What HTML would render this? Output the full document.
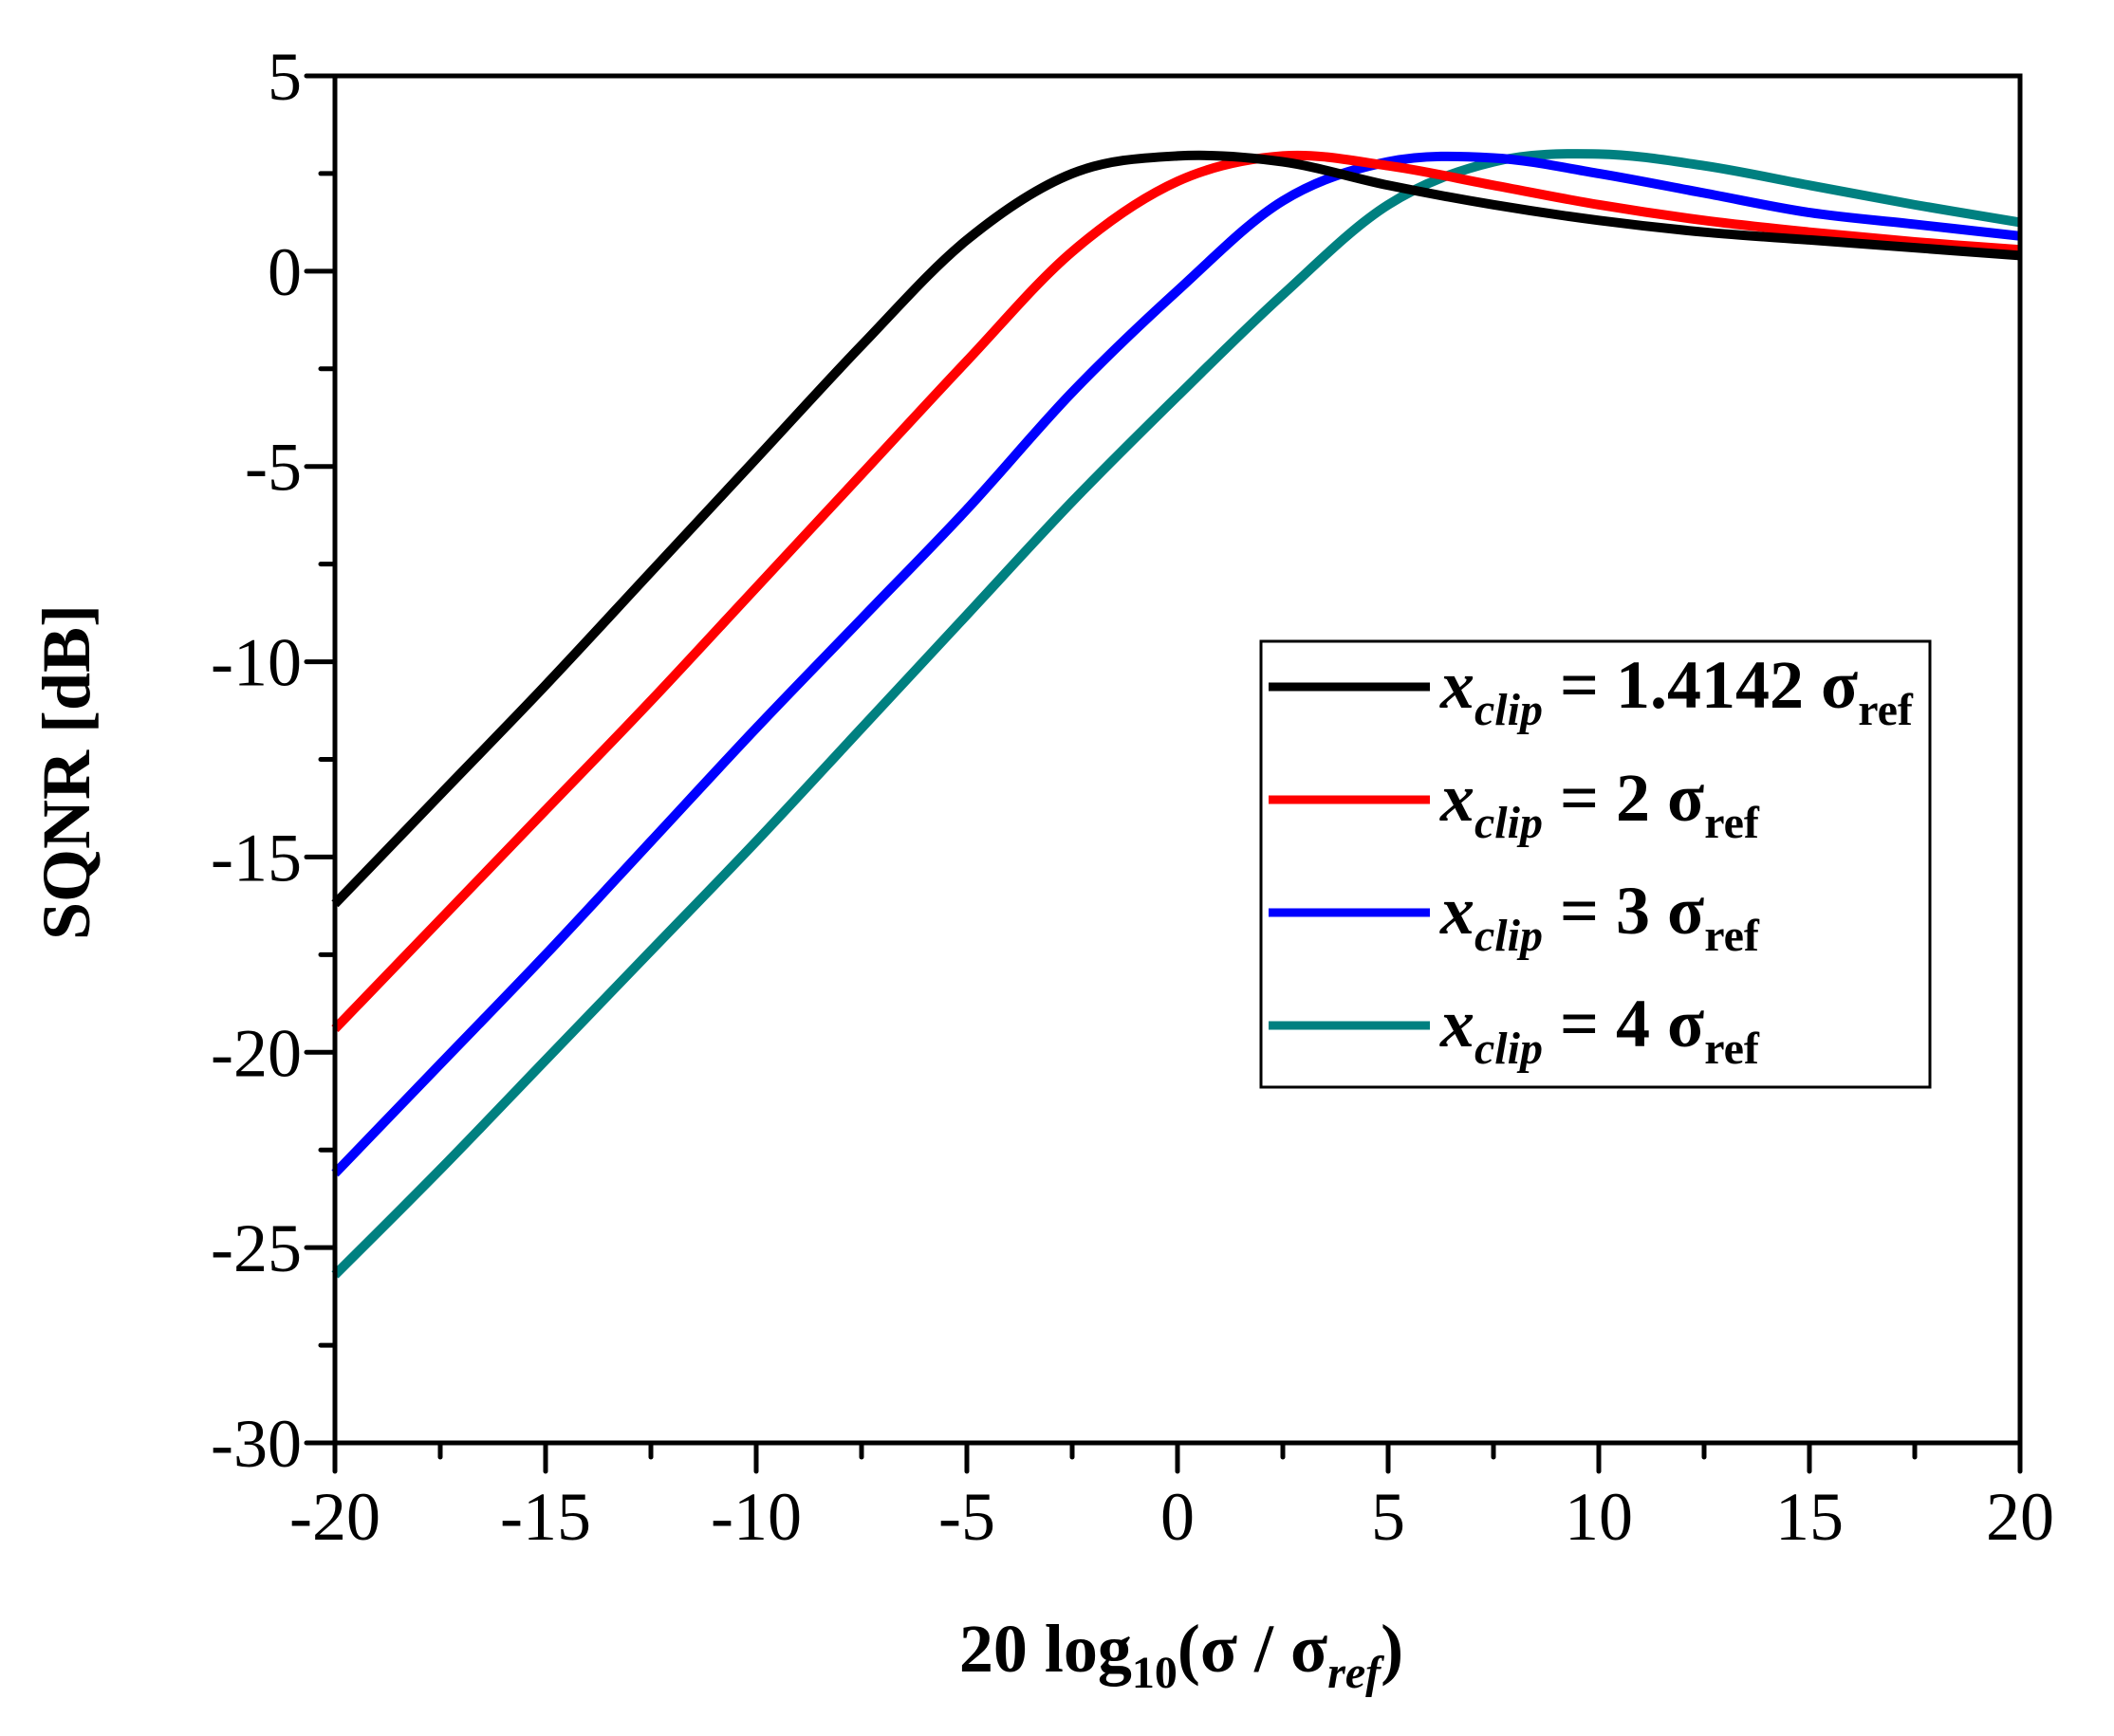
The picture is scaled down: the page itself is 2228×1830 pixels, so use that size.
<!DOCTYPE html>
<html><head><meta charset="utf-8"><style>
html,body{margin:0;padding:0;background:#fff}
svg{display:block;font-family:"Liberation Serif","DejaVu Serif",serif}
</style></head><body>
<svg id="chart" width="2228" height="1830" viewBox="0 0 2228 1830">
<g id="curves"></g>
<g id="axes"></g>
<text x="94" y="814" transform="rotate(-90 94 814)" text-anchor="middle" font-size="72" font-weight="bold">SQNR [dB]</text>
<text x="1245" y="1762" text-anchor="middle" font-size="72" font-weight="bold">20 log<tspan font-size="48" dy="17">10</tspan><tspan dy="-17">(σ / σ</tspan><tspan font-size="48" font-style="italic" dy="17">ref</tspan><tspan dy="-17">)</tspan></text>
<g id="legend">
<rect x="1329" y="676" width="705" height="470" fill="#fff" stroke="#000" stroke-width="3"/>
</g>
</svg>
<script>
const xs = [-20,-17.5,-15,-12.5,-10,-7.5,-5,-2.5,0,2.5,5,7.5,10,12.5,15,17.5,20];
const sBlack = [-16.2,-13.4,-10.6,-7.7,-4.8,-1.9,0.8,2.5,2.95,2.8,2.2,1.7,1.3,1.0,0.8,0.6,0.4];
const sRed = [-19.4,-16.6,-13.8,-11,-8.1,-5.2,-2.3,0.5,2.3,2.95,2.7,2.2,1.7,1.3,1.0,0.75,0.55];
const sBlue = [-23.1,-20.3,-17.5,-14.6,-11.7,-8.9,-6.1,-3.1,-0.5,1.8,2.8,2.9,2.5,2.0,1.5,1.2,0.9];
const sTeal = [-25.7,-23.0,-20.2,-17.4,-14.6,-11.7,-8.8,-5.9,-3.2,-0.6,1.7,2.8,3.0,2.7,2.2,1.7,1.25];
const xTicks = [-20,-15,-10,-5,0,5,10,15,20];
const yTicks = [5,0,-5,-10,-15,-20,-25,-30];
const legendLabels = ["1.4142","2","3","4"];

const NS="http://www.w3.org/2000/svg";
const L=353,R=2129,T=80,B=1521;
const sx=v=>L+(v+20)/40*(R-L);
const sy=v=>T+(5-v)/35*(B-T);
function mk(tag,attrs,parent){const e=document.createElementNS(NS,tag);for(const k in attrs)e.setAttribute(k,attrs[k]);parent.appendChild(e);return e;}
const axes=document.getElementById('axes'),curves=document.getElementById('curves'),legend=document.getElementById('legend');

function path(ys){
  const p=xs.map((x,i)=>[sx(x),sy(ys[i])]);
  let d=`M${p[0][0]},${p[0][1]}`;
  for(let i=0;i<p.length-1;i++){
    const p0=p[Math.max(0,i-1)],p1=p[i],p2=p[i+1],p3=p[Math.min(p.length-1,i+2)];
    const c1=[p1[0]+(p2[0]-p0[0])/6,p1[1]+(p2[1]-p0[1])/6];
    const c2=[p2[0]-(p3[0]-p1[0])/6,p2[1]-(p3[1]-p1[1])/6];
    d+=` C${c1[0]},${c1[1]} ${c2[0]},${c2[1]} ${p2[0]},${p2[1]}`;
  }
  return d;
}
const series=[[sTeal,'#008080','series-xclip-4'],[sBlue,'#0000ff','series-xclip-3'],[sRed,'#ff0000','series-xclip-2'],[sBlack,'#000000','series-xclip-1-4142']];
series.forEach(s=>{
  const e=mk('path',{d:path(s[0]),fill:'none',stroke:s[1],'stroke-width':10},curves);
  
  
});

const frame=mk('rect',{x:L,y:T,width:R-L,height:B-T,fill:'none',stroke:'#000','stroke-width':5},axes);


for(let v=-20;v<=20;v+=2.5){
  const major=xTicks.includes(v);
  const t=mk('line',{x1:sx(v),x2:sx(v),y1:B,y2:B+(major?30:15),stroke:'#000','stroke-width':5,'stroke-linecap':'round'},axes);
  
  
}
xTicks.forEach(v=>{
  const t=mk('text',{x:sx(v),y:1623,'text-anchor':'middle','font-size':72},axes);
  t.textContent=v;
  
  
});
for(let v=5;v>=-30;v-=2.5){
  const major=yTicks.includes(v);
  const t=mk('line',{x1:L,x2:L-(major?30:15),y1:sy(v),y2:sy(v),stroke:'#000','stroke-width':5,'stroke-linecap':'round'},axes);
  
  
}
yTicks.forEach(v=>{
  const t=mk('text',{x:318,y:sy(v)+25,'text-anchor':'end','font-size':72},axes);
  t.textContent=v;
  
  
});

const legColors=['#000000','#ff0000','#0000ff','#008080'];
const legY=[724,843,962,1081];
legendLabels.forEach((lab,i)=>{
  const ln=mk('line',{x1:1337,x2:1507,y1:legY[i],y2:legY[i],stroke:legColors[i],'stroke-width':9},legend);
  
  
  const t=mk('text',{x:1518,y:legY[i]+22,'font-size':72,'font-weight':'bold'},legend);
  t.innerHTML=`<tspan font-style="italic">x</tspan><tspan font-style="italic" font-size="48" dy="18">clip</tspan><tspan dy="-18"> = ${lab} σ</tspan><tspan font-size="48" dy="18">ref</tspan>`;
  
  
});
</script>
</body></html>
